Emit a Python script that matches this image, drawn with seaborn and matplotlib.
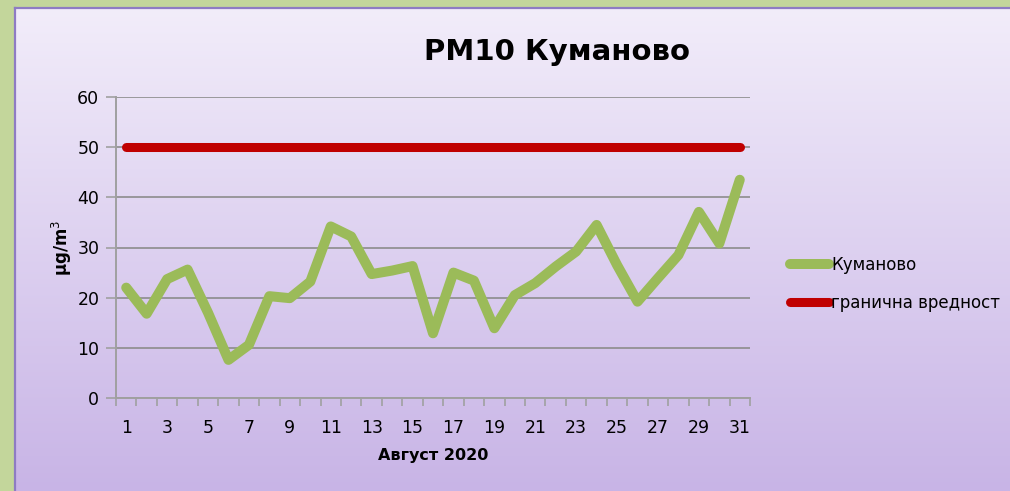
import numpy as np
import pandas as pd
import matplotlib.pyplot as plt
import seaborn as sns
from matplotlib.colors import LinearSegmentedColormap

sns.set_theme(style="white")
plt.rcParams['font.family'] = ['DejaVu Sans']
plt.rcParams['text.color'] = 'black'
plt.rcParams['axes.labelcolor'] = 'black'

# PM10 daily values, Kumanovo, August 2020
days = list(range(1, 32))
pm10 = [22.0, 16.8, 23.7, 25.6, 17.0, 7.6, 10.6, 20.3, 19.9, 23.2,
        34.2, 32.2, 24.7, 25.4, 26.3, 12.9, 25.0, 23.4, 13.9, 20.5,
        22.9, 26.2, 29.2, 34.5, 26.5, 19.2, 23.9, 28.5, 37.1, 30.8, 43.5]
limit_value = 50
y_ticks = [0, 10, 20, 30, 40, 50, 60]
x_labels = list(range(1, 32, 2))

GREEN = "#9bbb59"
RED = "#c00000"
GRID = "#8c8c8c"

df = pd.DataFrame({"day": days, "pm10": pm10, "limit": [limit_value] * len(days)})

W, H = 1010, 491
fig = plt.figure(figsize=(W / 100, H / 100), dpi=100, facecolor="#c3d69b")

# gradient panel behind the chart
bg = fig.add_axes([15 / W, 0, 1 - 15 / W, (H - 8) / H])
cmap = LinearSegmentedColormap.from_list("panel", ["#c8b4e6", "#f2edfa"])
grad = np.linspace(0, 1, 256).reshape(-1, 1)
bg.imshow(grad, aspect="auto", cmap=cmap, origin="lower", extent=[0, 1, 0, 1])
bg.set_xticks([])
bg.set_yticks([])
for side, sp in bg.spines.items():
    sp.set_color("#8e7cc3")
    sp.set_linewidth(1.6)
bg.spines["right"].set_visible(False)
bg.spines["bottom"].set_visible(False)

ax = fig.add_axes([116 / W, (H - 398) / H, (750 - 116) / W, (398 - 97) / H])
ax.set_facecolor("none")

sns.lineplot(data=df, x="day", y="pm10", ax=ax, color=GREEN, linewidth=7.2,
             solid_capstyle="round", solid_joinstyle="round", label="Куманово", zorder=3)
sns.lineplot(data=df, x="day", y="limit", ax=ax, color=RED, linewidth=6.5,
             solid_capstyle="round", label="гранична вредност", zorder=3)

ax.set_xlim(0.5, 31.5)
ax.set_ylim(0, 60)
ax.set_yticks(y_ticks)
ax.set_xticks(x_labels)
ax.set_xticks(np.arange(0.5, 32, 1), minor=True)
ax.tick_params(axis="x", which="major", length=0, pad=15, labelsize=12.5, labelcolor="black")
ax.tick_params(axis="x", which="minor", length=6, color="#a0a0a0", width=1.2, direction="out")
ax.tick_params(axis="y", which="major", length=7, color="#a0a0a0", width=1.2,
               direction="out", pad=5, labelsize=12.5, labelcolor="black")
ax.tick_params(bottom=True, left=True, which="both")

ax.yaxis.grid(True, color=GRID, linewidth=1.2)
ax.set_axisbelow(True)
for side in ["top", "right"]:
    ax.spines[side].set_visible(False)
for side in ["left", "bottom"]:
    ax.spines[side].set_color("#a0a0a0")
    ax.spines[side].set_linewidth(1.4)

ax.set_xlabel("Август 2020", fontsize=11.5, fontweight="bold", labelpad=8)
ax.set_ylabel("µg/m$^3$", fontsize=12, fontweight="bold", labelpad=2)

fig.text(557 / W, 1 - 52 / H, "PM10 Куманово", fontsize=21, fontweight="bold",
         ha="center", va="center")

ax.legend(loc="center left", bbox_to_anchor=(782 / W, 1 - 284 / H),
          bbox_transform=fig.transFigure, frameon=False, fontsize=12,
          handlelength=2.3, handletextpad=0.15, labelspacing=1.2, borderpad=0)

fig.savefig("out.png", dpi=100, facecolor=fig.get_facecolor())
